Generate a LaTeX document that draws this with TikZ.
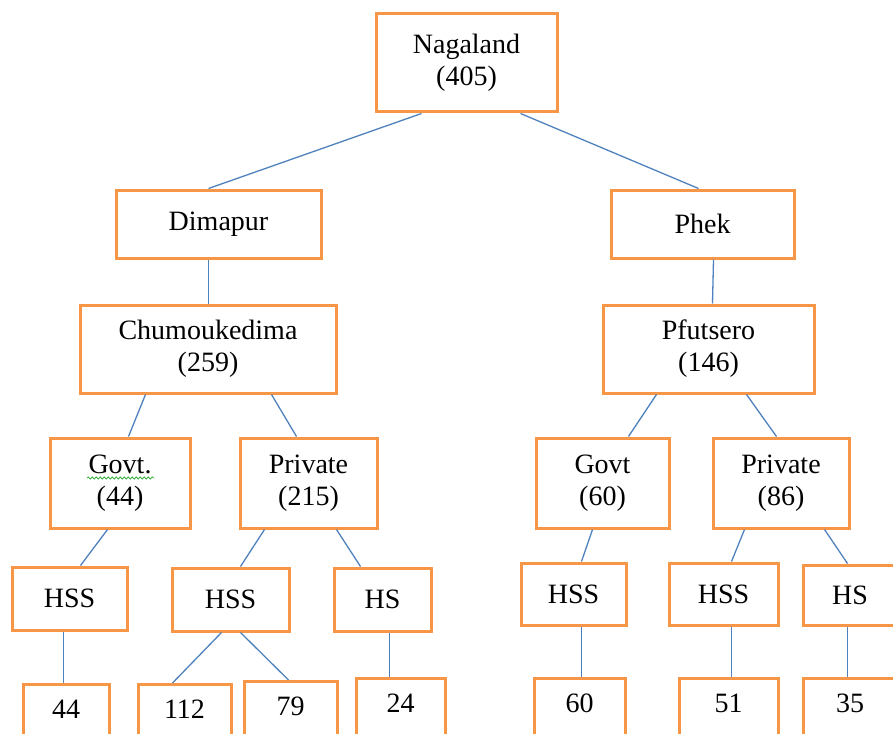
\documentclass[tikz,border=0pt]{standalone}
\usepackage{fontspec}
\setmainfont{LiberationSerif}[Extension=.ttf, UprightFont=*-Regular, BoldFont=*-Bold]
\usetikzlibrary{decorations.pathmorphing}
\definecolor{boxorange}{HTML}{F79646}
\definecolor{linkblue}{HTML}{4F81BD}
\definecolor{spellgreen}{HTML}{3CB043}
\tikzset{
  bx/.style={draw=boxorange, line width=3pt, fill=white, inner sep=0pt, align=center,
    font=\fontsize{28}{32}\selectfont},
  leaf/.style={bx, anchor=north, text height=34pt, text depth=40pt},
  link/.style={draw=linkblue, line width=1.3pt}
}
\begin{document}
\begin{tikzpicture}[x=1pt,y=-1pt]
\useasboundingbox (0,0) rectangle (893,733);
\clip (0,0) rectangle (893,733);
% level 0-1
\node[bx, minimum width=181pt, minimum height=98pt] (nag) at (466.5,63) {Nagaland\\(405)};
\node[bx, minimum width=205pt, minimum height=68pt] (dim) at (218.5,224) {Dimapur};
\node[bx, minimum width=183pt, minimum height=68pt] (phek) at (702.5,224) {Phek};
% level 2
\node[bx, minimum width=256pt, minimum height=88pt] (chu) at (208,349) {Chumoukedima\\(259)};
\node[bx, minimum width=211pt, minimum height=88pt] (pfu) at (708.5,349) {Pfutsero\\(146)};
% level 3
\node[bx, minimum width=140pt, minimum height=90pt] (g1) at (120,483) {Govt.\\(44)};
\node[bx, minimum width=137pt, minimum height=90pt] (p1) at (308.5,483) {Private\\(215)};
\node[bx, minimum width=133pt, minimum height=90pt] (g2) at (602.5,483) {Govt\\(60)};
\node[bx, minimum width=136pt, minimum height=90pt] (p2) at (781,483) {Private\\(86)};
% level 4
\node[bx, minimum width=115pt, minimum height=63pt] (h1) at (69.5,598.5) {HSS};
\node[bx, minimum width=117pt, minimum height=63pt] (h2) at (230.5,599.5) {HSS};
\node[bx, minimum width=97pt, minimum height=63pt] (h3) at (382.5,599.5) {HS};
\node[bx, minimum width=105pt, minimum height=62pt] (h4) at (573.5,594) {HSS};
\node[bx, minimum width=109pt, minimum height=62pt] (h5) at (723.5,594) {HSS};
\node[bx, minimum width=94pt, minimum height=60pt] (h6) at (850,595) {HS};
% leaves
\node[leaf, minimum width=86pt] (l1) at (66,683) {44};
\node[leaf, minimum width=93pt] (l2) at (184.5,683) {112};
\node[leaf, minimum width=93pt] (l3) at (290.5,680) {79};
\node[leaf, minimum width=89pt] (l4) at (400.5,677) {24};
\node[leaf, minimum width=91pt] (l5) at (579.5,677) {60};
\node[leaf, minimum width=99pt] (l6) at (728.5,677) {51};
\node[leaf, minimum width=94pt] (l7) at (850,677) {35};
% spell-check squiggle
\draw[spellgreen, line width=0.8pt, decorate, decoration={snake, amplitude=1pt, segment length=4pt}]
  ([xshift=-33pt,yshift=5pt]g1.center) -- ([xshift=34pt,yshift=5pt]g1.center);
% connectors
\draw[link] ([xshift=47pt]nag.south west) -- ([xshift=94pt]dim.north west);
\draw[link] ([xshift=146pt]nag.south west) -- ([xshift=89pt]phek.north west);
\draw[link] ([xshift=94pt]dim.south west) -- ([xshift=130pt]chu.north west);
\draw[link] ([xshift=104pt]phek.south west) -- ([xshift=111pt]pfu.north west);
\draw[link] ([xshift=67pt]chu.south west) -- ([xshift=80pt]g1.north west);
\draw[link] ([xshift=193pt]chu.south west) -- ([xshift=58pt]p1.north west);
\draw[link] ([xshift=55pt]pfu.south west) -- ([xshift=94pt]g2.north west);
\draw[link] ([xshift=145pt]pfu.south west) -- ([xshift=65pt]p2.north west);
\draw[link] ([xshift=59pt]g1.south west) -- ([xshift=70pt]h1.north west);
\draw[link] ([xshift=26pt]p1.south west) -- ([xshift=70pt]h2.north west);
\draw[link] ([xshift=98pt]p1.south west) -- ([xshift=28pt]h3.north west);
\draw[link] ([xshift=58pt]g2.south west) -- ([xshift=62pt]h4.north west);
\draw[link] ([xshift=33pt]p2.south west) -- ([xshift=64pt]h5.north west);
\draw[link] ([xshift=113pt]p2.south west) -- ([xshift=46pt]h6.north west);
\draw[link] ([xshift=53pt]h1.south west) -- ([xshift=42pt]l1.north west);
\draw[link] ([xshift=51pt]h2.south west) -- ([xshift=36pt]l2.north west);
\draw[link] ([xshift=70pt]h2.south west) -- ([xshift=46pt]l3.north west);
\draw[link] ([xshift=57pt]h3.south west) -- ([xshift=35pt]l4.north west);
\draw[link] ([xshift=62pt]h4.south west) -- ([xshift=49pt]l5.north west);
\draw[link] ([xshift=64pt]h5.south west) -- ([xshift=54pt]l6.north west);
\draw[link] ([xshift=46pt]h6.south west) -- ([xshift=46pt]l7.north west);
\end{tikzpicture}
\end{document}
